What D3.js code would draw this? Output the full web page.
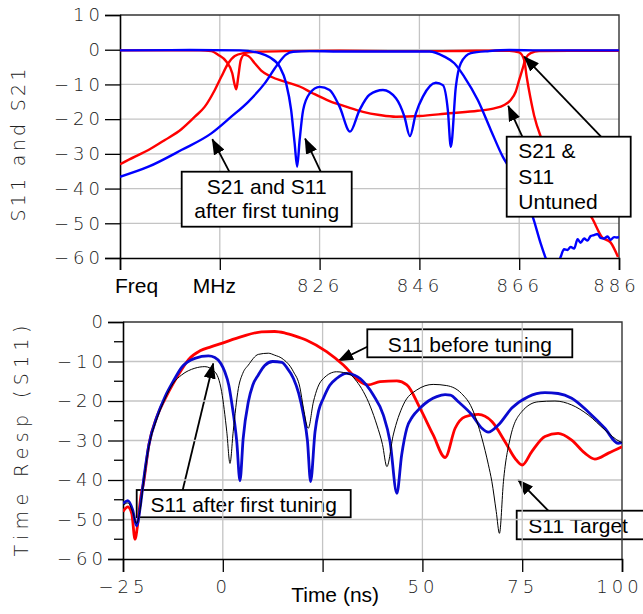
<!DOCTYPE html>
<html>
<head>
<meta charset="utf-8">
<script src="https://cdn.jsdelivr.net/npm/d3@7"></script>
<style>
body { margin: 0; background: #fff; }
svg { display: block; }
.num { font-family: "DejaVu Sans", sans-serif; font-weight: 200; font-size: 18px; letter-spacing: 4px; fill: #222; }
.lbl { font-family: "Liberation Sans", Arial, sans-serif; font-size: 21px; fill: #000; }
</style>
</head>
<body>
<svg id="chart" width="643" height="614"></svg>
<script>
// ---- top panel: frequency response (MHz, dB)
const freqTicks = [786, 806, 826, 846, 866, 886];
const freqTickLabels = ["Freq", "MHz", "826", "846", "866", "886"];
const sParamTicks = [10, 0, -10, -20, -30, -40, -50, -60];

const s21Untuned = [[786,-33.0],[789,-30.8],[791.7,-28.9],[795,-26.0],[798.3,-22.9],[801,-19.3],[803,-16.4],[805,-11.6],
  [806.3,-7.8],[807.7,-3.9],[809,-1.8],[810.7,-1.0],[813.6,-0.6],[820,-0.4],[830,-0.3],[840,-0.4],[850,-0.4],
  [858,-0.3],[864,-0.3],[866,-0.8],[867,-3],[867.5,-7.8],[868.2,-13.5],[869,-19],[870.3,-25],[872,-30],
  [874,-35],[877,-42],[880.6,-48.5],[882.6,-54],[884.3,-55.5],[885.8,-59.7]];
const s11Untuned = [[786,-0.2],[795,-0.2],[802,-0.2],[804.3,-0.4],[805.7,-1.5],[807.3,-3.4],[808.5,-6.8],[809,-10.2],
  [809.3,-11.4],[809.7,-7.8],[810.2,-3],[810.9,-1.5],[811.7,-1.8],[813,-3.9],[814.3,-6.0],[816.3,-7.8],[819,-9.2],
  [822,-10.6],[824.7,-12.6],[828,-14.8],[831.3,-16.4],[834.7,-17.9],[838,-18.8],[841.3,-19.3],[846,-19.1],
  [852,-18.3],[857.7,-17.6],[861,-16.9],[863,-15.9],[864.3,-14.5],[865.3,-12.1],[866,-8.7],[866.7,-5.4],
  [867.3,-2.5],[868.3,-1.0],[870,-0.4],[878,-0.3],[886,-0.3]];
const s21Tuned = [[786,-36.6],[791.7,-33.7],[798.3,-28.9],[804.3,-24.1],[808.3,-19.3],[811.7,-15],[815,-9.7],
  [817.5,-4.4],[819.2,-1.5],[820.7,-0.6],[824,-0.4],[830,-0.5],[840,-0.5],[848,-0.5],[851,-2],[853,-3.9],
  [855,-7.8],[857.7,-14.5],[860.3,-23.1],[862.7,-30.8],[864,-34],[866,-40],[868.7,-48.1],[870.3,-55.8],
  [871.3,-60],[872.5,-64],[873.5,-63],[874.3,-59.7],[875,-57.5],[875.7,-57.7],[876.3,-56.8],[877,-57.3],
  [877.7,-54.6],[878.3,-55.6],[879,-54.4],[879.7,-55],[880.3,-53.7],[881,-53.4],[881.7,-53.1],[882.3,-54.2],
  [883,-54.4],[883.7,-53.8],[884.3,-54.8],[885,-54],[885.7,-54.1],[886,-53.9]];
const s11Tuned = [[786,-0.2],[800,-0.1],[810,-0.2],[814,-1.0],[816,-2.2],[818,-4.9],[819.3,-9.7],[820.3,-17.4],
  [821,-27],[821.5,-33.7],[822,-26],[822.7,-17.4],[824,-12.6],[826,-10.7],[828,-11.6],[830,-16.4],[832.1,-23.6],
  [834,-17.4],[836,-13],[838.7,-11.6],[841.3,-14],[843,-19.3],[844.1,-24.9],[845.3,-18.3],[846.7,-13.5],
  [849.3,-9.5],[850.7,-10.2],[851.7,-17.4],[852.3,-28],[853.3,-10.7],[854.3,-3.9],[856.3,-1],[860,-0.4],
  [864,-0.1],[870,-0.2],[886,-0.2]];

// ---- bottom panel: time response (ns, dB)
const timeTicks = [-25, 0, 25, 50, 75, 100];
const timeTickLabels = ["\u221225", "0", "Time (ns)", "50", "75", "100"];
const timeRespTicks = [0, -10, -20, -30, -40, -50, -60];
const timeRespMinor = [-5, -15, -25, -35, -45, -55];

const s11Before = [[-25,-48],[-23.8,-46.8],[-22.8,-48.5],[-22,-55],[-21.3,-51],[-20.5,-44],[-19.9,-41],[-18.5,-31],
  [-16.5,-24],[-14.5,-19.5],[-12.4,-15.5],[-10.3,-12],[-8.6,-9.5],[-5.7,-7.3],[-3,-6.3],[-0.3,-5.4],[4.7,-3.7],
  [9.7,-2.5],[13,-2.4],[15.6,-2.8],[18,-3.5],[21,-4.6],[26,-7.5],[30.2,-10.9],[34.4,-15.1],[36.4,-15.9],
  [39.4,-15.1],[43.6,-14.9],[46.1,-15.9],[49.4,-21.8],[52.7,-28.6],[55.7,-34.3],[58.2,-26.9],[60.7,-24],
  [64,-23.4],[67.4,-25.2],[70.7,-30.3],[73.2,-34.5],[75,-36.2],[77.4,-32.8],[80.7,-29],[84,-28.2],[87.4,-29.9],
  [90.7,-33.2],[93.2,-34.7],[96.6,-33.2],[100,-31.6]];
const s11After = [[-25,-46],[-23.8,-45.2],[-22.6,-47.5],[-21.6,-51.6],[-20.7,-47],[-19.9,-40.5],[-18.5,-31],
  [-16.5,-24],[-14.5,-19],[-12.4,-15],[-10.3,-11.5],[-7,-9.2],[-3.6,-8.6],[-2,-9],[-0.5,-10.5],[0.5,-12.6],
  [1.5,-16],[2.2,-20.2],[3.5,-30.3],[4.3,-40.2],[5.1,-29.5],[6.4,-20.2],[7.5,-16],[8.9,-13.4],[10.5,-11],
  [12.5,-10],[14.8,-10.2],[16,-11.5],[17.7,-14.3],[19,-18],[20.2,-23.5],[21.2,-30],[22,-40.4],[23.1,-27.8],
  [24,-22.5],[25.2,-19.3],[26.8,-16],[28.5,-14.3],[31,-13],[33,-13.5],[34.4,-14.3],[36,-16],[37.7,-18.5],
  [40.2,-23.5],[41.9,-30.3],[43.6,-43.4],[44.8,-33.7],[46.1,-26.9],[47.5,-24],[49.4,-21.8],[51.5,-20],
  [53.6,-18.9],[55.7,-18.4],[57,-18.5],[59,-20.2],[62.4,-23.5],[64.9,-26.9],[66.5,-27.9],[69,-26.1],
  [72.4,-21.8],[76.5,-18.9],[80.7,-17.9],[84,-18.1],[87.4,-19.3],[91.5,-22.7],[95.7,-26.9],[99,-30.7],[100,-30.5]];
const s11Target = [[-25,-46.5],[-23.8,-45.8],[-22.6,-48],[-21.6,-51],[-20.7,-47.5],[-19.9,-41],[-18.5,-31.5],
  [-16.5,-24.5],[-14.5,-19.5],[-12.4,-15.5],[-10.3,-13.4],[-7,-11.7],[-4.5,-11.3],[-2,-12.6],[-0.3,-17.6],
  [1,-27.8],[1.8,-35.8],[2.6,-27.8],[3.9,-16.8],[5,-13],[6.4,-10.9],[8.9,-8.2],[11.4,-7.9],[13,-8.4],
  [14.8,-9.2],[17.7,-12.6],[19.3,-16.5],[20.2,-21.8],[21.4,-26.9],[22.7,-20.2],[23.8,-16.5],[25.2,-14.3],
  [28.5,-12.6],[31.9,-13.3],[33.5,-15],[35.2,-17.6],[37,-21.5],[38.6,-26.1],[40,-31],[41.1,-36.6],[42.7,-28.6],
  [45.2,-21],[48.6,-17.2],[52.7,-15.8],[56.1,-16.1],[59.8,-18.1],[62.4,-21.8],[64.9,-29.4],[66.5,-36],
  [67.4,-40.4],[68.5,-48],[69.3,-53.5],[70.3,-40.4],[72,-29.4],[74.9,-22.7],[79,-20.2],[83.2,-20],[87.4,-21],
  [91.5,-23.5],[95.7,-27.3],[99.5,-30.3],[100,-30.5]];

const svg = d3.select("#chart");

const defs = svg.append("defs");
defs.append("marker")
    .attr("id", "head")
    .attr("markerUnits", "userSpaceOnUse")
    .attr("markerWidth", 16).attr("markerHeight", 12)
    .attr("refX", 15).attr("refY", 6)
    .attr("orient", "auto")
    .append("path")
    .attr("d", "M0,0 L16,6 L0,12 Z")
    .attr("fill", "#000");

function drawPanel(opts) {
    const x = d3.scaleLinear().domain(opts.xDomain).range([opts.left, opts.right]);
    const y = d3.scaleLinear().domain(opts.yDomain).range([opts.top, opts.bottom]);
    const g = svg.append("g");

    defs.append("clipPath").attr("id", opts.id)
        .append("rect")
        .attr("x", opts.left).attr("y", opts.top)
        .attr("width", opts.right - opts.left).attr("height", opts.bottom - opts.top);

    // grid
    g.append("g")
        .selectAll("line.v")
        .data(opts.xTicks.slice(1, -1))
        .enter().append("line")
        .attr("x1", d => x(d)).attr("x2", d => x(d))
        .attr("y1", opts.top).attr("y2", opts.bottom)
        .attr("stroke", "#c4c4c4").attr("stroke-width", 1.3);
    g.append("g")
        .selectAll("line.h")
        .data(opts.yTicks.slice(1, -1))
        .enter().append("line")
        .attr("y1", d => y(d)).attr("y2", d => y(d))
        .attr("x1", opts.left).attr("x2", opts.right)
        .attr("stroke", "#c4c4c4").attr("stroke-width", 1.3);

    // frame: top / right
    g.append("path")
        .attr("d", `M${opts.left},${opts.top}H${opts.right}V${opts.bottom}`)
        .attr("fill", "none").attr("stroke", "#333").attr("stroke-width", 1.4);

    // y axis
    const yAxis = g.append("g")
        .attr("transform", `translate(${opts.left},0)`)
        .call(d3.axisLeft(y).tickValues(opts.yTicks).tickSize(15).tickPadding(opts.yPad));
    yAxis.select(".domain").attr("stroke", "#000").attr("stroke-width", 1.6);
    yAxis.selectAll(".tick line").attr("stroke", "#000").attr("stroke-width", 1.3);
    yAxis.selectAll("text").attr("class", "num");

    if (opts.yMinor) {
        g.append("g").selectAll("line")
            .data(opts.yMinor)
            .enter().append("line")
            .attr("x1", opts.left - 9).attr("x2", opts.left)
            .attr("y1", d => y(d)).attr("y2", d => y(d))
            .attr("stroke", "#000").attr("stroke-width", 1.3);
    }

    // x axis
    const xAxis = g.append("g")
        .attr("transform", `translate(0,${opts.bottom})`)
        .call(d3.axisBottom(x).tickValues(opts.xTicks).tickSize(opts.xTickSize)
            .tickFormat((d, i) => opts.xLabels[i]));
    xAxis.select(".domain").attr("stroke", "#000").attr("stroke-width", 1.6);
    xAxis.selectAll(".tick line").attr("stroke", "#000").attr("stroke-width", 1.3);
    xAxis.selectAll("text")
        .attr("class", "num")
        .attr("dy", null)
        .attr("y", opts.xLabelY - opts.bottom);
    // keep the last label inside the window
    xAxis.selectAll("text").filter((d, i, n) => i === n.length - 1).attr("dx", -3);

    // series
    const line = d3.line().x(d => x(d[0])).y(d => y(d[1])).curve(d3.curveMonotoneX);
    const plot = g.append("g").attr("clip-path", `url(#${opts.id})`);
    opts.series.forEach(s => {
        plot.append("path")
            .datum(s.data)
            .attr("d", line)
            .attr("fill", "none")
            .attr("stroke", s.color)
            .attr("stroke-width", s.width)
            .attr("stroke-linejoin", "round");
    });

    // y title
    g.append("text")
        .attr("class", "num")
        .attr("transform", `translate(${opts.titleX},${opts.titleY}) rotate(-90)`)
        .attr("text-anchor", "middle")
        .attr("textLength", opts.titleLen)
        .attr("lengthAdjust", "spacing")
        .style("letter-spacing", "0px")
        .style("font-size", "19px")
        .text(opts.title);

    return {x, y, g, xAxis};
}

// word labels that sit in place of a numeric tick label
function wordLabels(axis, offsets, baseline) {
    axis.selectAll("text")
        .filter(d => d in offsets)
        .attr("class", "lbl")
        .attr("y", baseline)
        .attr("dx", d => offsets[d]);
}

function callout(g, box, lines, anchor) {
    g.append("rect")
        .attr("x", box[0]).attr("y", box[1])
        .attr("width", box[2] - box[0]).attr("height", box[3] - box[1])
        .attr("fill", "#fff").attr("stroke", "#000").attr("stroke-width", 1.8);
    lines.forEach(l => {
        g.append("text")
            .attr("class", "lbl")
            .attr("x", l[0]).attr("y", l[1])
            .attr("text-anchor", anchor)
            .text(l[2]);
    });
}

function arrow(g, from, to) {
    g.append("line")
        .attr("x1", from[0]).attr("y1", from[1])
        .attr("x2", to[0]).attr("y2", to[1])
        .attr("stroke", "#000").attr("stroke-width", 1.8)
        .attr("marker-end", "url(#head)");
}

// ---- top panel
const topPanel = drawPanel({
    id: "clipTop", left: 120, right: 619, top: 15, bottom: 258,
    xDomain: [786, 886], yDomain: [10, -60],
    xTicks: freqTicks, xLabels: freqTickLabels, yTicks: sParamTicks,
    xTickSize: 12, xLabelY: 292, yPad: 1,
    title: "S11  and  S21", titleX: 25, titleY: 145, titleLen: 153,
    series: [
        {data: s21Untuned, color: "#ff0000", width: 2.4},
        {data: s11Untuned, color: "#ff0000", width: 2.4},
        {data: s21Tuned, color: "#0000ff", width: 2.4},
        {data: s11Tuned, color: "#0000ff", width: 2.4}
    ]
});
wordLabels(topPanel.xAxis, {786: 16, 806: -6}, 34.7);

const ann = svg.append("g");
arrow(ann, [229.3, 171.7], [topPanel.x(804.5), topPanel.y(-25.8)]);
arrow(ann, [320.7, 171.7], [topPanel.x(823.1), topPanel.y(-25.6)]);
arrow(ann, [522.3, 136.7], [topPanel.x(863.8), topPanel.y(-16.2)]);
arrow(ann, [601, 136.7], [topPanel.x(867), topPanel.y(-2)]);
callout(ann, [181.7, 171.7, 351.7, 226.7],
    [[266.7, 194.3, "S21 and S11"], [266.7, 218, "after first tuning"]], "middle");
callout(ann, [506.7, 136.7, 630.7, 216.7],
    [[518.3, 158.3, "S21 &"], [518.3, 183.8, "S11"], [518.3, 209.3, "Untuned"]], "start");

// ---- bottom panel
const botPanel = drawPanel({
    id: "clipBot", left: 123, right: 622, top: 322, bottom: 559,
    xDomain: [-25, 100], yDomain: [0, -60],
    xTicks: timeTicks, xLabels: timeTickLabels, yTicks: timeRespTicks, yMinor: timeRespMinor,
    xTickSize: 13, xLabelY: 593, yPad: 1,
    title: "Time  Resp  (S11)", titleX: 28, titleY: 441, titleLen: 231,
    series: [
        {data: s11Before, color: "#ff0000", width: 2.8},
        {data: s11After, color: "#0a0ad0", width: 2.8},
        {data: s11Target, color: "#000", width: 1}
    ]
});
wordLabels(botPanel.xAxis, {25: 12}, 43);

arrow(ann, [367.3, 346.7], [botPanel.x(28.9), botPanel.y(-9.9)]);
arrow(ann, [182.7, 490], [botPanel.x(-2.4), botPanel.y(-10.5)]);
arrow(ann, [548.3, 510.7], [botPanel.x(74), botPanel.y(-40)]);
callout(ann, [367.3, 329.3, 572.3, 357.3], [[469.8, 351.7, "S11 before tuning"]], "middle");
callout(ann, [136.7, 490, 350.7, 517.3], [[243.7, 511.7, "S11 after first tuning"]], "middle");
callout(ann, [516.7, 510.7, 660, 539.3], [[528.3, 533.3, "S11 Target"]], "start");
</script>
</body>
</html>
